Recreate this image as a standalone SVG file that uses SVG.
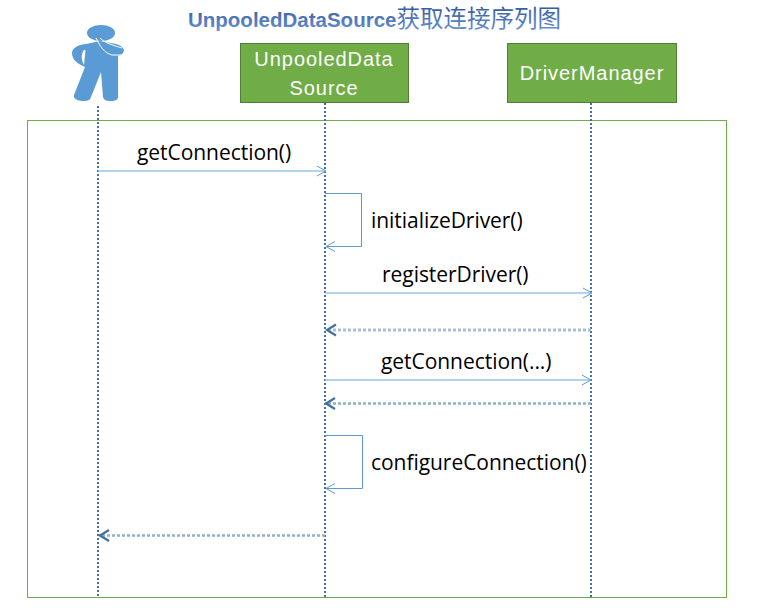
<svg xmlns="http://www.w3.org/2000/svg" width="762" height="613" viewBox="0 0 762 613">
<defs>
<linearGradient id="tg" x1="0" y1="0" x2="0" y2="1"><stop offset="0" stop-color="#34599c"/><stop offset="1" stop-color="#6a95d6"/></linearGradient>
<marker id="open" markerUnits="userSpaceOnUse" markerWidth="12" markerHeight="12" refX="10" refY="6" orient="auto"><path d="M1 1 L10 6 L1 11" fill="none" stroke="#5b9bd5" stroke-width="1"/></marker>
<marker id="ret" markerUnits="userSpaceOnUse" markerWidth="14" markerHeight="14" refX="12" refY="7" orient="auto"><path d="M2 1.5 L11 7 L2 12.500" fill="none" stroke="#41719c" stroke-width="2.200"/></marker>
</defs>
<style>
rect.bg{fill:#fff}
.frame{fill:none;stroke:#70ad47;stroke-width:1}
.box{fill:#70ad47;stroke:#507e32;stroke-width:1}
.bt{font:20px "Liberation Sans","Open Sans",sans-serif;fill:#fff;text-anchor:middle;letter-spacing:.95px}
.lb{font:21px "Open Sans","Liberation Sans",sans-serif;fill:#000;letter-spacing:-.05px}
.life{stroke:#41719c;stroke-width:2;stroke-dasharray:2 2;fill:none}
.call{stroke:#9dc3e6;stroke-width:1.500;fill:none;marker-end:url(#open)}
.self{stroke:#5b9bd5;stroke-width:1;fill:none;marker-end:url(#open)}
.ret{stroke:#a9bfd6;stroke-width:3;stroke-dasharray:3 2;fill:none;marker-end:url(#ret)}
.ret2{stroke:#8fb0d2;stroke-width:2.500;stroke-dasharray:3 2;fill:none;marker-end:url(#ret)}
</style>
<rect class="bg" width="762" height="613"/>
<text id="title" x="188" y="27" font-family="'Liberation Sans','Noto Sans CJK SC',sans-serif" font-size="20.500" font-weight="bold" fill="url(#tg)">UnpooledDataSource<tspan font-weight="normal" font-size="23.500">获取连接序列图</tspan></text>
<rect class="frame" x="27.500" y="120.500" width="699" height="477"/>
<g id="actor"><ellipse cx="101" cy="33" rx="14" ry="8" fill="#5b9bd5"/><path fill="#5b9bd5" d="M86 44 C76 45 72 49 72 53 C72 60 78 64 85 67 L74 95 C73 100 80 101 84 101 C88 101 90 100 91 97 L101 72 L103 97 C104 101 108 101 111 101 C115 101 118 100 118 97 L118 56 C122 55 124 52 124 50 C123 47 120 45 116 44 L100 41 Z"/><path d="M84 50 C81 54 81 60 84 65 L85.500 50 Z" fill="#fff"/><path d="M96 38 C100 46 104 53 112 55 L122 55 M100 38 C105 43 112 45 122 48" stroke="#fff" stroke-width="1" fill="none"/></g>
<g id="node-unpooled"><rect class="box" x="240.500" y="43.500" width="168" height="59"/><text class="bt" x="324" y="66">UnpooledData</text><text class="bt" x="324" y="95">Source</text></g>
<g id="node-driver"><rect class="box" x="507.500" y="43.500" width="169" height="59"/><text class="bt" x="592" y="80">DriverManager</text></g>
<g id="connectors">
<path class="life" d="M98 106 V597"/><path class="life" d="M325 103 V597"/><path class="life" d="M591 103 V597"/>
<path class="call" d="M98 171 H326"/>
<path class="self" d="M325 193.500 H361.500 V246.500 H326"/>
<path class="call" d="M325 293 H592"/>
<path class="ret" d="M591 330 H326"/>
<path class="call" d="M325 380 H591"/>
<path class="ret2" d="M591 403.500 H325"/>
<path class="self" d="M325 435.500 H362.500 V488.500 H326"/>
<path class="ret2" d="M325 535.500 H99"/>
</g>
<g id="labels">
<text class="lb" x="137" y="160">getConnection()</text>
<text class="lb" x="371" y="228">initializeDriver()</text>
<text class="lb" x="382" y="282">registerDriver()</text>
<text class="lb" x="381" y="369">getConnection(...)</text>
<text class="lb" x="371" y="470">configureConnection()</text>
</g>
</svg>
